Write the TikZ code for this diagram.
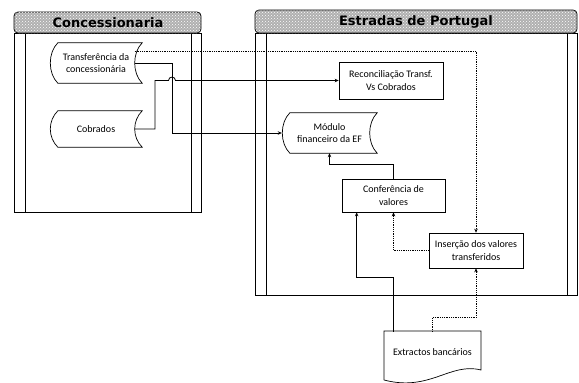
\documentclass[tikz,border=0pt]{standalone}
\usepackage{fontspec}
\setmainfont{Carlito}
\newfontfamily\hdrfont{DejaVu Sans}
\usetikzlibrary{calc,patterns,arrows.meta}
\newcommand{\sdshape}[1]{%
  \draw[line width=0.7pt] ($(#1.north west)+(8,0)$) -- (#1.north east)
    .. controls ($(#1.north east)+(-10,10)$) and ($(#1.south east)+(-10,-10)$) .. (#1.south east)
    -- ($(#1.south west)+(8,0)$)
    .. controls ($(#1.south west)+(-2,-10)$) and ($(#1.north west)+(-2,10)$) .. cycle;}
\begin{document}
\begin{tikzpicture}[x=1pt,y=-1pt,
  font=\fontsize{10}{12.3}\selectfont,
  box/.style={draw, line width=0.7pt, rectangle, align=center, inner sep=2pt},
  sdata/.style={rectangle, align=center, inner sep=2pt},
  pool/.style={draw, line width=0.8pt},
  hdr/.style={fill=gray!62, draw, line width=0.8pt, rounded corners=4pt},
  hdrtxt/.style={font=\hdrfont\bfseries\fontsize{13}{15}\selectfont},
  flow/.style={draw, line width=0.8pt, -{Stealth[length=4pt,width=3.5pt]}},
  msg/.style={draw, line width=0.8pt, densely dotted, -{Stealth[length=4pt,width=3.5pt]}}]
\useasboundingbox (0,0) rectangle (579,383);

% pools
\draw[pool] (14,33) rectangle (201,212);
\draw[pool] (25,33) -- (25,212) (191,33) -- (191,212);
\draw[hdr] (14,12) rectangle (201,33);
\path[pattern=crosshatch dots, pattern color=white, rounded corners=4pt] (14,12) rectangle (201,33);
\node[hdrtxt] (hl) at (108,22.5) {Concessionaria};

\draw[pool] (255,33) rectangle (577,295);
\draw[pool] (266,33) -- (266,295) (567,33) -- (567,295);
\draw[hdr] (255,10) rectangle (577,33);
\path[pattern=crosshatch dots, pattern color=white, rounded corners=4pt] (255,10) rectangle (577,33);
\node[hdrtxt] (hr) at (416,21.5) {Estradas de Portugal};

% nodes
\node[sdata, minimum width=92, minimum height=40] (t) at (96,63) {Transferência da\\concessionária};
\sdshape{t}
\node[sdata, minimum width=92, minimum height=36] (cb) at (96,129) {Cobrados};
\sdshape{cb}
\node[box, minimum width=104, minimum height=37] (r) at (391,80.5) {Reconciliação Transf.\\Vs Cobrados};
\node[sdata, minimum width=95, minimum height=40] (m) at (329.5,133) {Módulo\\financeiro da EF};
\sdshape{m}
\node[box, minimum width=103, minimum height=33] (c) at (393.5,195.5) {Conferência de\\valores};
\node[box, minimum width=94, minimum height=35] (i) at (476,250.5) {Inserção dos valores\\transferidos};
\node[sdata, minimum width=97, minimum height=40] (e) at (432.5,352) {Extractos bancários};
\draw[line width=0.7pt] (384,380) -- (384,331) -- (481,331) -- (481,370)
  .. controls (450,362) and (430,392) .. (384,380);

% junction x positions
\coordinate (j1) at (155,0);
\coordinate (j2) at (172,0);

% connectors
\draw[msg] ($(t.east)+(-7.5,-12)$) -| (i.north);
\draw[flow] ($(t.east)+(-7.5,0)$) -- (j2 |- t.east) -- (j2 |- m.west) -- (m.west);
\draw[flow] ($(cb.east)+(-7.5,0)$) -- (j1 |- cb.east) -- (j1 |- r.west)
  -- ($(j2 |- r.west)+(-3.5,0)$)
  .. controls ($(j2 |- r.west)+(-3.5,-4.5)$) and ($(j2 |- r.west)+(3.5,-4.5)$) .. ($(j2 |- r.west)+(3.5,0)$)
  -- (r.west);
\draw[flow] (c.north) -- ++(0,-14) -| (m.south);
\draw[flow] ($(e.north west)+(10,0)$) -- ++(0,-54) -| ($(c.south west)+(15,0)$);
\draw[msg] (e.north) -- ++(0,-14) -| (i.south);
\draw[msg] (i.west) -| (c.south);
\end{tikzpicture}
\end{document}
